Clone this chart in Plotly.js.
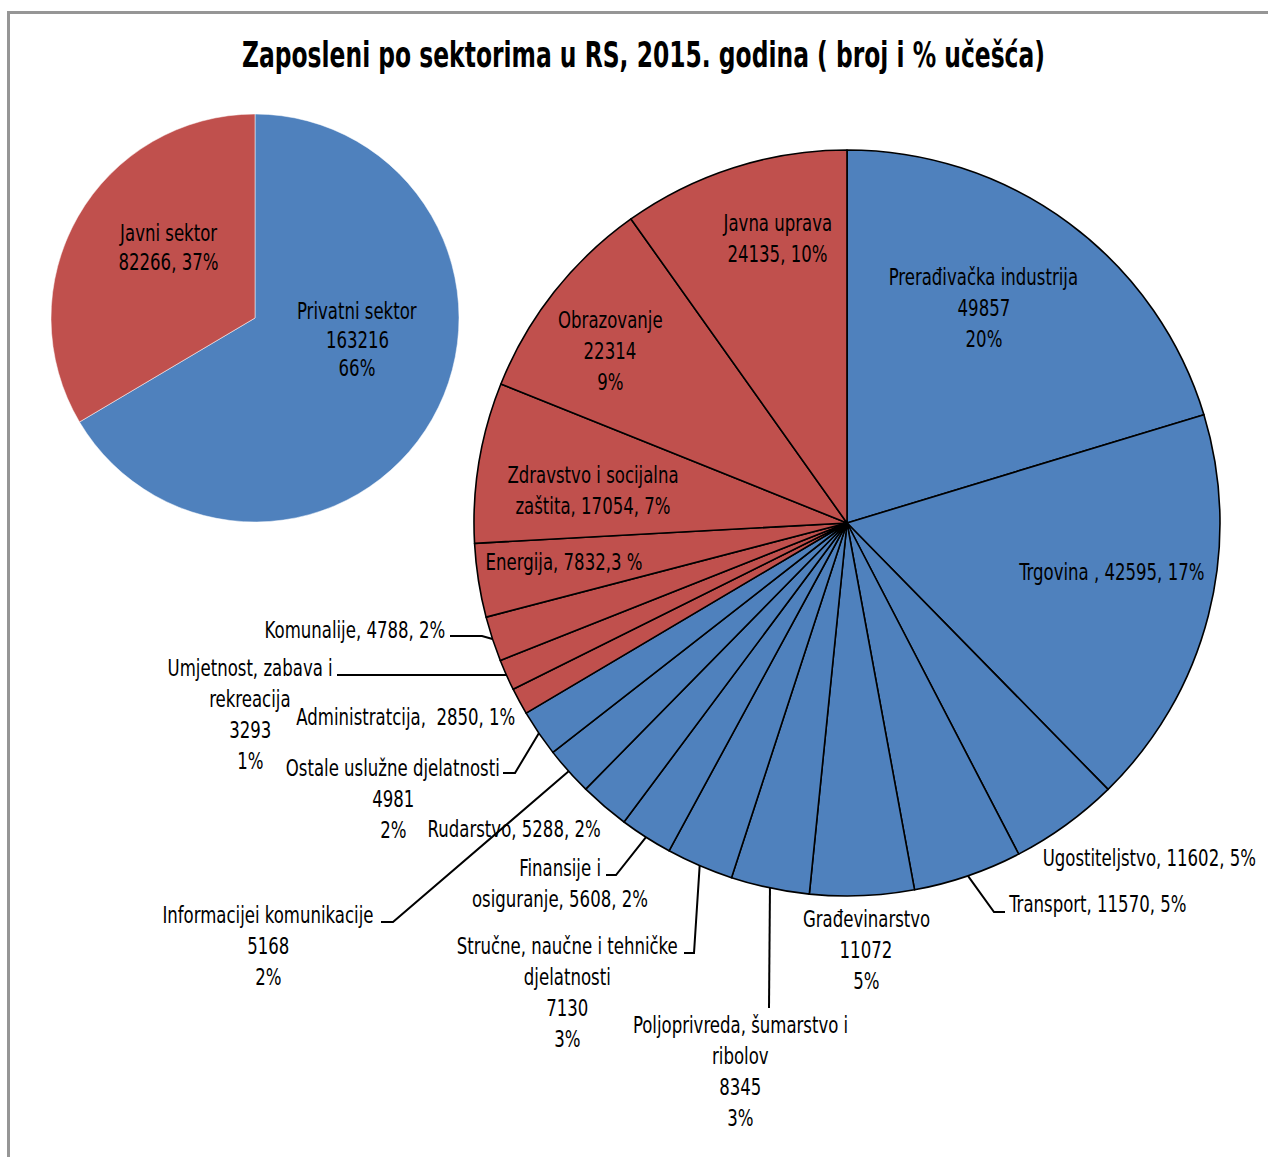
<!DOCTYPE html>
<html><head><meta charset="utf-8">
<script src="https://cdn.plot.ly/plotly-3.0.1.min.js"></script>
<style>html,body{margin:0;padding:0;background:#fff;} #chart{width:1268px;height:1157px;}</style>
</head><body><div id="chart"></div>
<script>
// ---- DATA ----
const groupNames = ['Privatni sektor', 'Javni sektor'];
const groupValues = [163216, 82266];
const groupPctText = ['66%', '37%'];

const sectorNames = ['Prerađivačka industrija', 'Trgovina', 'Ugostiteljstvo', 'Transport', 'Građevinarstvo',
  'Poljoprivreda, šumarstvo i ribolov', 'Stručne, naučne i tehničke djelatnosti', 'Finansije i osiguranje',
  'Rudarstvo', 'Informacijei komunikacije', 'Ostale uslužne djelatnosti', 'Administratcija',
  'Umjetnost, zabava i rekreacija', 'Komunalije', 'Energija', 'Zdravstvo i socijalna zaštita',
  'Obrazovanje', 'Javna uprava'];
const sectorValues = [49857, 42595, 11602, 11570, 11072, 8345, 7130, 5608, 5288, 5168, 4981,
  2850, 3293, 4788, 7832, 17054, 22314, 24135];
const sectorGroup = [0,0,0,0,0,0,0,0,0,0,0, 1,1,1,1,1,1,1];
const sectorPctText = ['20%','17%','5%','5%','5%','3%','3%','2%','2%','2%','2%','1%','1%','2%','3 %','7%','9%','10%'];

const titleText = 'Zaposleni po sektorima u RS, 2015. godina ( broj i % učešća)';

// ---- LAYOUT / STYLE ----
const W = 1268, H = 1157;
const groupColors = ['#4F81BD', '#C0504D'];
const FONT = 'DejaVu Sans Condensed, DejaVu Sans, sans-serif';
const FS = 23;
const LABEL_SQUEEZE = 0.8;      // condensed look of the original typeface
const TITLE_WIDTH = 803;
const smallPie = {cx: 255, cy: 318, r: 204};
const bigPie = {cx: 847, cy: 523, r: 373};

const groupLabelLayout = [
  {x: 357, y: 311, tpl: '{n}|{v}|{p}', dy: 28.5},
  {x: 168, y: 233, tpl: '{n}|{v}, {p}', dy: 28.5}
];
const sectorLabelLayout = [
  {x: 984, y: 277, tpl: '{n}|{v}|{p}'},
  {x: 1111, y: 572, tpl: '{n} , {v}, {p}'},
  {x: 1149, y: 858, tpl: '{n}, {v}, {p}'},
  {x: 1097, y: 904, tpl: '{n}, {v}, {p}', leader: [[1005, 912], [994, 912]]},
  {x: 866, y: 919, tpl: '{n}|{v}|{p}'},
  {x: 740, y: 1025, tpl: '{a}|{b}|{v}|{p}', k: 3, leader: [[769, 1008]]},
  {x: 567, y: 946, tpl: '{a}|{b}|{v}|{p}', k: 4, leader: [[684, 953], [694, 953]]},
  {x: 560, y: 868, tpl: '{a}|{b}, {v}, {p}', k: 2, leader: [[606, 875], [616, 875]]},
  {x: 514, y: 829, tpl: '{n}, {v}, {p}'},
  {x: 268, y: 915, tpl: '{n}|{v}|{p}', leader: [[381, 922], [393, 922]]},
  {x: 393, y: 768, tpl: '{n}|{v}|{p}', leader: [[503, 773], [515, 773]]},
  {x: 406, y: 717, tpl: '{n},  {v}, {p}'},
  {x: 250, y: 668, tpl: '{a}|{b}|{v}|{p}', k: 3, leader: [[337, 675]]},
  {x: 355, y: 630, tpl: '{n}, {v}, {p}', leader: [[450, 636], [482, 636]]},
  {x: 564, y: 562, tpl: '{n}, {v},{p}'},
  {x: 593, y: 475, tpl: '{a}|{b}, {v}, {p}', k: 3},
  {x: 610, y: 320, tpl: '{n}|{v}|{p}'},
  {x: 777, y: 223, tpl: '{n}|{v}, {p}'}
];
const BIG_DY = 31;

const px = x => x / W;
const py = y => 1 - y / H;
function domainOf(p) {
  return {x: [px(p.cx - p.r), px(p.cx + p.r)], y: [py(p.cy + p.r), py(p.cy - p.r)]};
}
function fill(tpl, name, v, p, k) {
  const words = name.split(' ');
  const a = words.slice(0, k || words.length).join(' ');
  const b = words.slice(k || words.length).join(' ');
  return tpl.replace('{n}', name).replace('{a}', a).replace('{b}', b)
            .replace('{v}', String(v)).replace('{p}', p).split('|');
}

const annotations = [];
function addLabel(lines, x, y, dy) {
  lines.forEach((t, i) => {
    annotations.push({
      text: t, x: px(x), y: py(y + i * dy), xref: 'paper', yref: 'paper',
      xanchor: 'center', yanchor: 'middle', showarrow: false,
      font: {family: FONT, size: FS, color: '#000'}
    });
  });
}
groupNames.forEach((n, i) => {
  const L = groupLabelLayout[i];
  addLabel(fill(L.tpl, n, groupValues[i], groupPctText[i]), L.x, L.y, L.dy);
});

const shapes = [];
const total = sectorValues.reduce((s, v) => s + v, 0);
let cum = 0;
sectorNames.forEach((n, i) => {
  const L = sectorLabelLayout[i];
  addLabel(fill(L.tpl, n, sectorValues[i], sectorPctText[i], L.k), L.x, L.y, BIG_DY);
  const mid = (cum + sectorValues[i] / 2) / total * 2 * Math.PI; // clockwise from 12 o'clock
  cum += sectorValues[i];
  if (L.leader) {
    const ex = bigPie.cx + bigPie.r * Math.sin(mid);
    const ey = bigPie.cy - bigPie.r * Math.cos(mid);
    const pts = L.leader.concat([[ex, ey]]);
    const path = pts.map((p, j) => (j ? 'L' : 'M') + px(p[0]).toFixed(5) + ',' + py(p[1]).toFixed(5)).join(' ');
    shapes.push({type: 'path', xref: 'paper', yref: 'paper', path: path,
      line: {color: '#000', width: 2}});
  }
});
// chart area border (cropped on right/bottom)
shapes.push({type: 'rect', xref: 'paper', yref: 'paper', x0: px(8.5), x1: 1.05, y0: py(12.5), y1: -0.05,
  line: {color: '#969696', width: 3}, fillcolor: 'rgba(0,0,0,0)', layer: 'above'});

const traces = [
  {type: 'pie', labels: groupNames, values: groupValues, sort: false, direction: 'clockwise', rotation: 0,
   marker: {colors: groupNames.map((_, i) => groupColors[i]), line: {color: '#ffffff', width: 0.5}},
   textinfo: 'none', hoverinfo: 'none', showlegend: false, domain: domainOf(smallPie)},
  {type: 'pie', labels: sectorNames, values: sectorValues, sort: false, direction: 'clockwise', rotation: 0,
   marker: {colors: sectorGroup.map(g => groupColors[g]), line: {color: '#000000', width: 1.6}},
   textinfo: 'none', hoverinfo: 'none', showlegend: false, domain: domainOf(bigPie)}
];

const layout = {
  width: W, height: H, margin: {l: 0, r: 0, t: 0, b: 0},
  paper_bgcolor: '#ffffff', plot_bgcolor: '#ffffff', showlegend: false,
  title: {text: '<b>' + titleText + '</b>', x: px(643.5), xanchor: 'center', y: py(55), yanchor: 'middle',
    font: {family: FONT, size: 35, color: '#000'}},
  annotations: annotations, shapes: shapes
};
Plotly.newPlot('chart', traces, layout, {staticPlot: true, displayModeBar: false}).then(gd => {
  // narrow the glyphs horizontally (text stays real, centred text)
  gd.querySelectorAll('text.annotation-text').forEach(el => {
    const w = el.getComputedTextLength();
    el.setAttribute('lengthAdjust', 'spacingAndGlyphs');
    el.setAttribute('textLength', (w * LABEL_SQUEEZE).toFixed(1));
  });
  gd.querySelectorAll('text.gtitle').forEach(el => {
    el.setAttribute('lengthAdjust', 'spacingAndGlyphs');
    el.setAttribute('textLength', TITLE_WIDTH);
  });
});
</script></body></html>
